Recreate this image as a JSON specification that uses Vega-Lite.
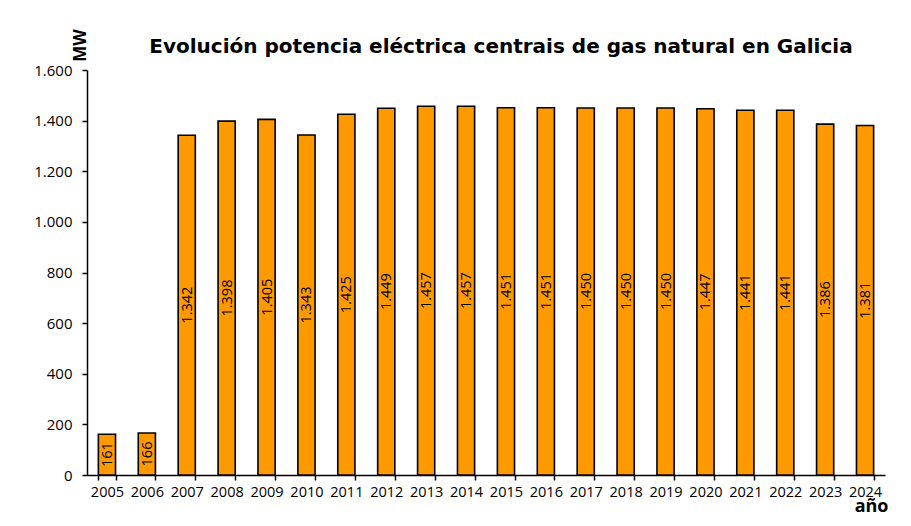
{
  "$schema": "https://vega.github.io/schema/vega-lite/v6.json",
  "width": 798,
  "height": 405,
  "autosize": {"type": "none"},
  "padding": {"left": 87, "top": 70, "right": 26, "bottom": 51},
  "background": "white",
  "config": {
    "view": {"stroke": null},
    "locale": {"number": {"decimal": ",", "thousands": ".", "grouping": [3], "currency": ["", " €"]}},
    "font": "Open Sans"
  },
  "title": {
    "text": "Evolución potencia eléctrica centrais de gas natural en Galicia",
    "font": "DejaVu Sans",
    "fontSize": 20,
    "fontWeight": "bold",
    "color": "black",
    "anchor": "middle",
    "dx": 15,
    "offset": -44,
    "baseline": "alphabetic"
  },
  "data": {
    "values": [
      {"ano": "2005", "mw": 161},
      {"ano": "2006", "mw": 166},
      {"ano": "2007", "mw": 1342},
      {"ano": "2008", "mw": 1398},
      {"ano": "2009", "mw": 1405},
      {"ano": "2010", "mw": 1343},
      {"ano": "2011", "mw": 1425},
      {"ano": "2012", "mw": 1449},
      {"ano": "2013", "mw": 1457},
      {"ano": "2014", "mw": 1457},
      {"ano": "2015", "mw": 1451},
      {"ano": "2016", "mw": 1451},
      {"ano": "2017", "mw": 1450},
      {"ano": "2018", "mw": 1450},
      {"ano": "2019", "mw": 1450},
      {"ano": "2020", "mw": 1447},
      {"ano": "2021", "mw": 1441},
      {"ano": "2022", "mw": 1441},
      {"ano": "2023", "mw": 1386},
      {"ano": "2024", "mw": 1381}
    ]
  },
  "encoding": {
    "x": {
      "field": "ano",
      "type": "nominal",
      "sort": null,
      "scale": {"paddingInner": 0.57, "paddingOuter": 0.285},
      "axis": {
        "title": "año",
        "titleFont": "Open Sans",
        "titleFontSize": 18,
        "titleFontWeight": "bold",
        "titleColor": "black",
        "titleAnchor": "end",
        "titleAlign": "right",
        "titleX": 801,
        "titleY": 36,
        "titleBaseline": "alphabetic",
        "labelAngle": 0,
        "labelFont": "Open Sans",
        "labelFontSize": 14.5,
        "labelColor": "black",
        "labelPadding": 5,
        "tickBand": "extent",
        "tickColor": "black",
        "tickSize": 5,
        "tickWidth": 1.5,
        "domainColor": "black",
        "domainWidth": 1.5
      }
    }
  },
  "layer": [
    {
      "mark": {"type": "bar", "fill": "#FF9900", "stroke": "black", "strokeWidth": 1.6},
      "encoding": {
        "y": {
          "field": "mw",
          "type": "quantitative",
          "scale": {"domain": [0, 1600], "nice": false},
          "axis": {
            "title": "MW",
            "titleFont": "Open Sans",
            "titleFontSize": 17,
            "titleFontWeight": "bold",
            "titleColor": "black",
            "titleAngle": 270,
            "titleX": 2,
            "titleY": -25,
            "titleAlign": "center",
            "titleBaseline": "bottom",
            "values": [0, 200, 400, 600, 800, 1000, 1200, 1400, 1600],
            "format": ",d",
            "labelFont": "Open Sans",
            "labelFontSize": 15,
            "labelColor": "black",
            "labelPadding": 10,
            "grid": false,
            "tickColor": "black",
            "tickSize": 5,
            "tickWidth": 1.5,
            "domainColor": "black",
            "domainWidth": 1.5
          }
        }
      }
    },
    {
      "mark": {"type": "text", "angle": 270, "align": "center", "baseline": "middle", "font": "Open Sans", "fontSize": 14.5, "color": "black", "dy": 1},
      "encoding": {
        "y": {
          "field": "mw",
          "type": "quantitative",
          "scale": {"domain": [0, 3200], "nice": false},
          "axis": null
        },
        "text": {"field": "mw", "type": "quantitative", "format": ",d"}
      }
    }
  ],
  "resolve": {"scale": {"y": "independent"}}
}
